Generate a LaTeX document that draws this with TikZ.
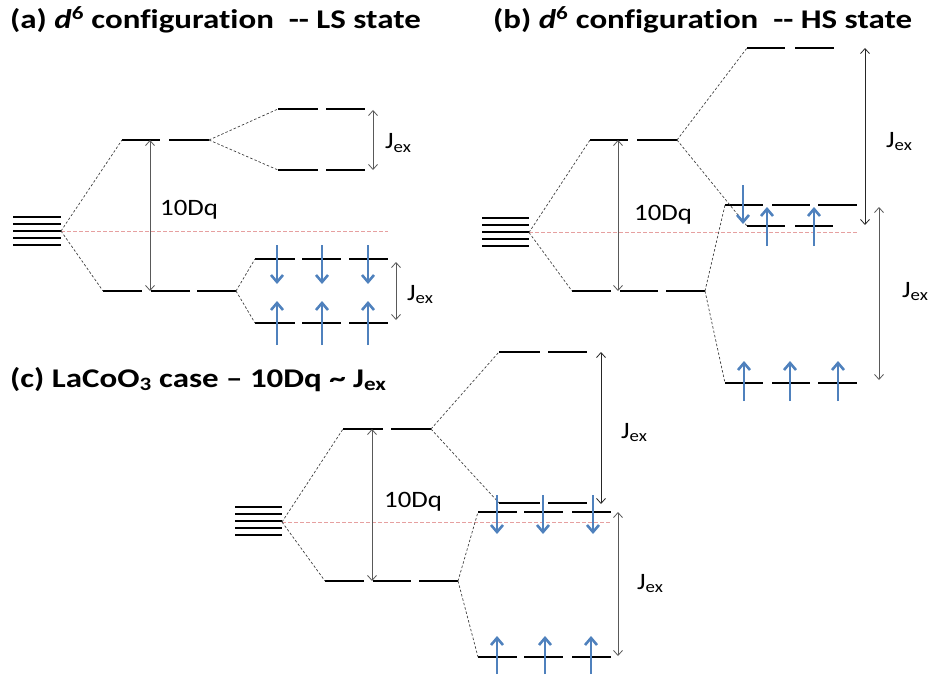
\documentclass[tikz,border=0pt]{standalone}
\usepackage{fontspec}
\setmainfont{Carlito}[Ligatures={TeX,NoCommon}]
\newfontfamily\ttlfont{Carlito}[FakeStretch=1.22, Ligatures={TeX,NoCommon}]
\newfontfamily\labfont{Carlito}[FakeStretch=1.14, Ligatures={TeX,NoCommon}]
\usetikzlibrary{arrows.meta}
\definecolor{spinblue}{HTML}{4F81BD}
\definecolor{fermired}{HTML}{E6A0A0}

\begin{document}
\begin{tikzpicture}[x=1pt, y=-1pt,
  lvl/.style={line width=2.6pt},
  link/.style={dash pattern=on 2.5pt off 2pt, line width=0.7pt, draw=black!75},
  ef/.style={dash pattern=on 3.5pt off 2.5pt, line width=1pt, draw=fermired},
  gap/.style={{Straight Barb[length=5pt,width=9pt]}-{Straight Barb[length=5pt,width=9pt]},
              line width=0.8pt, draw=black!65},
  spinup/.style={-{Straight Barb[length=7pt,width=12pt]}, line width=2.6pt, draw=spinblue},
  ttl/.style={font=\ttlfont\fontsize{27}{32}\selectfont\bfseries, anchor=base west, inner sep=0pt},
  lab/.style={font=\labfont\fontsize{23.5}{28}\selectfont, anchor=base west, inner sep=0pt}
]
\useasboundingbox (0,0) rectangle (930,677);

% ---- (a) LS state
\node[ttl] (ta) at (10,29) {(a) \textit{d}\textsuperscript{6} configuration~~-{}- LS state};
\foreach \y in {217,224,231,238,245} \draw[lvl] (13,\y) -- (61,\y);
\coordinate (aC) at (61,231);
\coordinate (aEf) at (388,231);
\coordinate (aEgL) at (122,140);
\coordinate (aEgR) at (209,140);
\coordinate (aT2L) at (103,291);
\coordinate (aT2R) at (236,291);
\coordinate (aEuL) at (278,109);
\coordinate (aEdL) at (278,170);
\coordinate (aTuL) at (255,259);
\coordinate (aTdL) at (255,323);
\draw[ef] (aC) -- (aEf);
\draw[lvl] (aEgL) -- (160,140) (169,140) -- (aEgR);
\draw[lvl] (aT2L) -- (142,291) (151,291) -- (190,291) (197,291) -- (aT2R);
\draw[lvl] (aEuL) -- (318,109) (326,109) -- (365,109);
\draw[lvl] (aEdL) -- (318,170) (326,170) -- (365,170);
\foreach \y in {259,323}
  \draw[lvl] (255,\y) -- (295,\y) (302,\y) -- (341,\y) (349,\y) -- (388,\y);
\draw[link] (aC) -- (aEgL);
\draw[link] (aC) -- (aT2L);
\draw[link] (aEgR) -- (aEuL);
\draw[link] (aEgR) -- (aEdL);
\draw[link] (aT2R) -- (aTuL);
\draw[link] (aT2R) -- (aTdL);
\coordinate (aDqT) at (150,140);
\coordinate (aDqB) at (150,291);
\draw[gap] (aDqT) -- (aDqB);
\node[lab] (aDq) at (160,215) {10Dq};
\coordinate (aJuT) at (373,110);
\coordinate (aJuB) at (373,170);
\draw[gap] (aJuT) -- (aJuB);
\node[lab] (aJu) at (385,149) {J\textsubscript{ex}};
\coordinate (aJdT) at (396,262);
\coordinate (aJdB) at (396,320);
\draw[gap] (aJdT) -- (aJdB);
\node[lab] (aJd) at (407,300) {J\textsubscript{ex}};
\foreach \x in {277,322,368} {
  \draw[spinup] (\x,245) -- (\x,284);
  \draw[spinup] (\x,345) -- (\x,301);
}

% ---- (b) HS state
\node[ttl] (tb) at (493,29) {(b) \textit{d}\textsuperscript{6} configuration~~-{}- HS state};
\foreach \y in {218,225,232,239,246} \draw[lvl] (482,\y) -- (529,\y);
\coordinate (bC) at (529,232.5);
\coordinate (bEf) at (858,232.5);
\coordinate (bEgL) at (590,140);
\coordinate (bEgR) at (677,140);
\coordinate (bT2L) at (572,291);
\coordinate (bT2R) at (705,291);
\coordinate (bEuL) at (747,48);
\coordinate (bEdL) at (747,226);
\coordinate (bTuL) at (725,205);
\coordinate (bTdL) at (725,383);
\draw[ef] (bC) -- (bEf);
\draw[lvl] (bEgL) -- (628,140) (637,140) -- (bEgR);
\draw[lvl] (bT2L) -- (611,291) (620,291) -- (658,291) (666,291) -- (bT2R);
\draw[lvl] (bEuL) -- (785,48) (795,48) -- (834,48);
\draw[lvl] (bEdL) -- (785,226) (795,226) -- (833,226);
\foreach \y in {205,383}
  \draw[lvl] (725,\y) -- (763,\y) (772,\y) -- (810,\y) (818,\y) -- (857,\y);
\draw[link] (bC) -- (bEgL);
\draw[link] (bC) -- (bT2L);
\draw[link] (bEgR) -- (bEuL);
\draw[link] (bEgR) -- (bEdL);
\draw[link] (bT2R) -- (bTuL);
\draw[link] (bT2R) -- (bTdL);
\coordinate (bDqT) at (618,140);
\coordinate (bDqB) at (618,291);
\draw[gap] (bDqT) -- (bDqB);
\node[lab] (bDq) at (634,220) {10Dq};
\coordinate (bJuT) at (865,48);
\coordinate (bJuB) at (865,225);
\draw[gap, draw=black!85] (bJuT) -- (bJuB);
\node[lab] (bJu) at (886,147) {J\textsubscript{ex}};
\coordinate (bJdT) at (879,207);
\coordinate (bJdB) at (879,380);
\draw[gap] (bJdT) -- (bJdB);
\node[lab] (bJd) at (902,297) {J\textsubscript{ex}};
\draw[spinup] (743,185) -- (743,224);
\foreach \x in {767,814} \draw[spinup] (\x,246) -- (\x,207);
\foreach \x in {744,790,838} \draw[spinup] (\x,401) -- (\x,361);

% ---- (c) LaCoO3
\node[ttl] (tc) at (10,387) {(c) LaCoO\textsubscript{3} case -- 10Dq \textasciitilde{} J\textsubscript{ex}};
\foreach \y in {507,514,521,528,535} \draw[lvl] (235,\y) -- (282,\y);
\coordinate (cC) at (282,522);
\coordinate (cEf) at (611,522);
\coordinate (cEgL) at (343,429);
\coordinate (cEgR) at (431,429);
\coordinate (cT2L) at (325,581);
\coordinate (cT2R) at (458,581);
\coordinate (cEuL) at (499,352);
\coordinate (cEdL) at (499,503);
\coordinate (cTuL) at (478,512);
\coordinate (cTdL) at (478,657);
\draw[ef] (cC) -- (cEf);
\draw[lvl] (cEgL) -- (383,429) (391,429) -- (cEgR);
\draw[lvl] (cT2L) -- (364,581) (373,581) -- (411,581) (419,581) -- (cT2R);
\draw[lvl] (cEuL) -- (540,352) (548,352) -- (587,352);
\draw[lvl] (cEdL) -- (540,503) (548,503) -- (587,503);
\foreach \y in {512,657}
  \draw[lvl] (478,\y) -- (517,\y) (524,\y) -- (563,\y) (572,\y) -- (611,\y);
\draw[link] (cC) -- (cEgL);
\draw[link] (cC) -- (cT2L);
\draw[link] (cEgR) -- (cEuL);
\draw[link] (cEgR) -- (cEdL);
\draw[link] (cT2R) -- (cTuL);
\draw[link] (cT2R) -- (cTdL);
\coordinate (cDqT) at (372,429);
\coordinate (cDqB) at (372,581);
\draw[gap] (cDqT) -- (cDqB);
\node[lab] (cDq) at (384,507) {10Dq};
\coordinate (cJuT) at (601,352);
\coordinate (cJuB) at (601,504);
\draw[gap, draw=black!85] (cJuT) -- (cJuB);
\node[lab] (cJu) at (621,438) {J\textsubscript{ex}};
\coordinate (cJdT) at (618,512);
\coordinate (cJdB) at (618,656);
\draw[gap] (cJdT) -- (cJdB);
\node[lab] (cJd) at (637,589) {J\textsubscript{ex}};
\foreach \x in {497,543,593} \draw[spinup] (\x,495) -- (\x,534);
\foreach \x in {497,545,591} \draw[spinup] (\x,674) -- (\x,636);
\end{tikzpicture}
\end{document}
